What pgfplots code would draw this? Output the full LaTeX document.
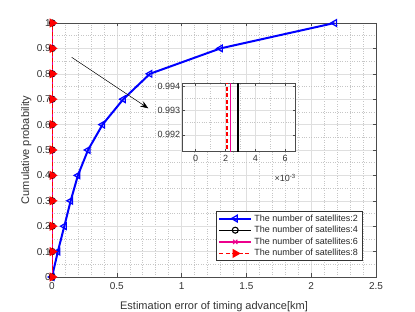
\documentclass[border=0pt]{standalone}
\usepackage{pgfplots}
\pgfplotsset{compat=1.18}
\usepackage{pgfplotstable}
\usepackage{fontspec}
\setmainfont{Liberation Sans}
\usetikzlibrary{arrows.meta}

\pgfplotstableread{
x y
0 0
0.045 0.1
0.095 0.2
0.144 0.3
0.200 0.4
0.278 0.5
0.390 0.6
0.550 0.7
0.756 0.8
1.300 0.9
2.180 1.0
}\satTwo
\pgfplotstableread{
x y
0.00284 0
0.00284 0.1
0.00284 0.2
0.00284 0.3
0.00284 0.4
0.00284 0.5
0.00284 0.6
0.00284 0.7
0.00284 0.8
0.00284 0.9
0.00284 1.0
}\satFour
\pgfplotstableread{
x y
0.00235 0
0.00235 0.1
0.00235 0.2
0.00235 0.3
0.00235 0.4
0.00235 0.5
0.00235 0.6
0.00235 0.7
0.00235 0.8
0.00235 0.9
0.00235 1.0
}\satSix
\pgfplotstableread{
x y
0.0021 0
0.0021 0.1
0.0021 0.2
0.0021 0.3
0.0021 0.4
0.0021 0.5
0.0021 0.6
0.0021 0.7
0.0021 0.8
0.0021 0.9
0.0021 1.0
}\satEight

\pgfplotsset{
  mylegimg/.style={legend image code/.code={
    \draw[mark repeat=2,mark phase=2,##1] plot coordinates {(0pt,0pt) (16pt,0pt) (32pt,0pt)};}},
}

\begin{document}
\begin{tikzpicture}[x=1pt,y=1pt]
\path[use as bounding box] (0,0) rectangle (415,312);
\begin{axis}[
  at={(52pt,35pt)}, anchor=south west,
  scale only axis, width=324pt, height=254pt,
  xmin=0, xmax=2.5, ymin=0, ymax=1,
  xtick={0,0.5,1,1.5,2,2.5}, xticklabels={0,0.5,1,1.5,2,2.5},
  ytick={0,0.1,0.2,0.3,0.4,0.5,0.6,0.7,0.8,0.9,1},
  yticklabels={0,0.1,0.2,0.3,0.4,0.5,0.6,0.7,0.8,0.9,1},
  minor x tick num=4, minor y tick num=1,
  grid=both,
  major grid style={gray!25, line width=0.5pt},
  minor grid style={gray!45, dotted, line width=0.5pt},
  tick align=inside, major tick length=3.5pt, minor tick length=0pt,
  axis line style={black!70, line width=0.6pt},
  tick style={black!70, line width=0.5pt},
  ticklabel style={font=\fontsize{10}{12}\selectfont, text=black!80},
  yticklabel style={inner xsep=1pt},
  xticklabel style={inner ysep=5pt},
  label style={font=\fontsize{11}{13}\selectfont, text=black!80},
  xlabel={Estimation error of timing advance[km]},
  ylabel={Cumulative probability},
  xlabel style={yshift=-3.5pt},
  ylabel style={yshift=1pt},
  clip=false,
  legend cell align=left,
  legend style={at={(0.957,0.063)}, anchor=south east,
    font=\fontsize{9}{10.5}\selectfont, text=black!85, draw=black!80, line width=0.5pt,
    row sep=0pt, inner xsep=2pt, inner ysep=1.5pt,
    nodes={inner ysep=1.8pt}},
  mylegimg,
]
\addplot[blue, line width=2pt, mark=triangle, mark size=3.8pt,
  mark options={rotate=90, solid, line width=1.2pt}] table {\satTwo};
\addlegendentry{The number of satellites:2}
\addplot[black, line width=1.3pt, mark=o, mark size=3pt,
  mark options={solid, line width=1.1pt}] table {\satFour};
\addlegendentry{The number of satellites:4}
\addplot[magenta, line width=1.4pt, mark=x, mark size=3pt,
  mark options={solid, line width=1.1pt}] table {\satSix};
\addlegendentry{The number of satellites:6}
\addplot[red, line width=1.4pt, dash pattern=on 4pt off 2.5pt, mark=triangle*, mark size=4pt,
  mark options={rotate=-90, solid}] table {\satEight};
\addlegendentry{The number of satellites:8}
\draw[-{Stealth[length=8pt,width=6pt]}, line width=0.5pt, black]
  (axis cs:0.152,0.865) -- (axis cs:0.743,0.664);
\end{axis}

\begin{axis}[
  at={(182.3pt,160.7pt)}, anchor=south west,
  scale only axis, width=113.4pt, height=68pt,
  xmin=-0.0009, xmax=0.0067, ymin=0.99133, ymax=0.99411,
  scaled ticks=false,
  restrict y to domain=0.85:1.05,
  xtick={0,0.002,0.004,0.006}, xticklabels={0,2,4,6},
  ytick={0.992,0.993,0.994}, yticklabels={0.992,0.993,0.994},
  minor x tick num=1, minor y tick num=1,
  grid=both,
  major grid style={gray!25, line width=0.5pt},
  minor grid style={gray!45, dotted, line width=0.5pt},
  tick align=inside, major tick length=2.5pt, minor tick length=0pt,
  axis line style={black!70, line width=0.6pt},
  tick style={black!70, line width=0.5pt},
  ticklabel style={font=\fontsize{9}{11}\selectfont, text=black!80},
  yticklabel style={inner xsep=2pt},
  xticklabel style={inner ysep=4pt},
  axis background/.style={fill=white},
]
\addplot[black, line width=1.3pt] table {\satFour};
\addplot[magenta, line width=1.4pt] table {\satSix};
\addplot[red, line width=1.4pt, dash pattern=on 4pt off 2.5pt] table {\satEight};
\end{axis}
\node[anchor=east, font=\fontsize{9}{11}\selectfont, text=black!80, inner sep=0pt] at (296pt,134pt) {×10\textsuperscript{-3}};
\end{tikzpicture}
\end{document}
